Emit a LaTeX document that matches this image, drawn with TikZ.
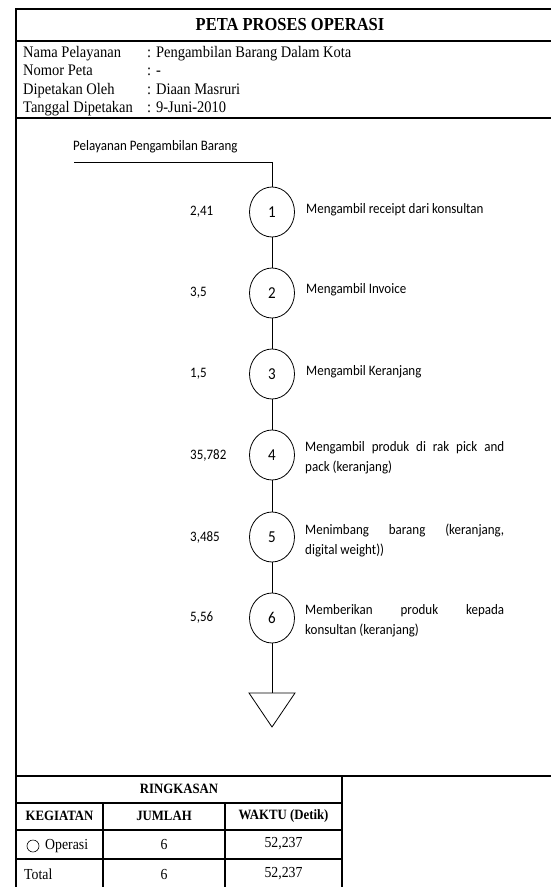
\documentclass[tikz,border=0pt]{standalone}
\usepackage{fontspec}
\usepackage{graphicx}
\setmainfont{Liberation Serif}
\newfontfamily\calfont{Carlito}
\newcommand{\vs}[1]{\scalebox{1}[1.11]{#1}}
\usetikzlibrary{shapes.geometric}
\begin{document}
\begin{tikzpicture}[x=1pt,y=-1pt,
  frame/.style={line width=1.2pt},
  flow/.style={line width=0.8pt},
  op/.style={draw,ellipse,line width=0.8pt,minimum width=45pt,minimum height=50pt,inner sep=0pt,font=\calfont\fontsize{15}{18}\selectfont},
  val/.style={anchor=west,font=\calfont\fontsize{13}{16}\selectfont,inner sep=0pt},
  desc/.style={anchor=west,font=\calfont\fontsize{13}{18}\selectfont,inner sep=0pt},
  info/.style={anchor=base west,font=\fontsize{14.5}{17}\selectfont,inner sep=0pt},
  th/.style={font=\bfseries\fontsize{12.8}{15}\selectfont,inner sep=0pt},
  td/.style={font=\fontsize{13.8}{16}\selectfont,inner sep=0pt}]
\useasboundingbox (0,0) rectangle (551,887);
% frame
\draw[frame] (551,9) -- (16,9) -- (16,887);
\draw[frame] (16,41) -- (551,41);
\draw[frame] (16,118) -- (551,118);
\draw[frame] (16,776) -- (551,776);
% summary table grid
\draw[frame] (342,776) -- (342,887);
\draw[frame] (16,803) -- (342,803);
\draw[frame] (16,830) -- (342,830);
\draw[frame] (16,859) -- (342,859);
\draw[frame] (103,803) -- (103,887);
\draw[frame] (225,803) -- (225,887);
% title
\node[font=\bfseries\fontsize{16.5}{19}\selectfont,inner sep=0pt] (title) at (290,25) {\vs{PETA PROSES OPERASI}};
% info
\node[info] (l1) at (23,57) {\vs{Nama Pelayanan}};
\node[info] (l2) at (23,75.5) {\vs{Nomor Peta}};
\node[info] (l3) at (23,94) {\vs{Dipetakan Oleh}};
\node[info] (l4) at (23,112.5) {\vs{Tanggal Dipetakan}};
\node[info] (v1) at (147,57) {\vs{: Pengambilan Barang Dalam Kota}};
\node[info] (v2) at (147,75.5) {\vs{: -}};
\node[info] (v3) at (147,94) {\vs{: Diaan Masruri}};
\node[info] (v4) at (147,112.5) {\vs{: 9-Juni-2010}};
% flow
\node[val] (head) at (73,147) {\vs{Pelayanan Pengambilan Barang}};
\coordinate (start) at (74,162);
\coordinate (corner) at (272,162);
\node[op] (c1) at (272,212) {\vs{1}};
\node[op] (c2) at (272,293) {\vs{2}};
\node[op] (c3) at (272,374) {\vs{3}};
\node[op] (c4) at (272,455) {\vs{4}};
\node[op] (c5) at (272,537) {\vs{5}};
\node[op] (c6) at (272,618) {\vs{6}};
\coordinate (ttop) at (272,693);
\coordinate (tl) at (249,693);
\coordinate (tr) at (295,693);
\coordinate (tb) at (272,727);
\draw[flow] (start) -- (corner) -- (c1);
\draw[flow] (c1) -- (c2);
\draw[flow] (c2) -- (c3);
\draw[flow] (c3) -- (c4);
\draw[flow] (c4) -- (c5);
\draw[flow] (c5) -- (c6);
\draw[flow] (c6) -- (ttop);
\draw[flow,line join=miter] (tl) -- (tr) -- (tb) -- cycle;
% times
\node[val] (t1) at (190,212) {\vs{2,41}};
\node[val] (t2) at (190,293) {\vs{3,5}};
\node[val] (t3) at (190,374) {\vs{1,5}};
\node[val] (t4) at (190,455) {\vs{35,782}};
\node[val] (t5) at (190,537) {\vs{3,485}};
\node[val] (t6) at (190,618) {\vs{5,56}};
% descriptions
\node[desc] (d1) at (306,210) {\vs{Mengambil receipt dari konsultan}};
\node[desc] (d2) at (306,290) {\vs{Mengambil Invoice}};
\node[desc] (d3) at (306,372) {\vs{Mengambil Keranjang}};
\node[desc] (d4) at (305,458) {\vs{\parbox{199pt}{Mengambil produk di rak pick and\linebreak pack (keranjang)}}};
\node[desc] (d5) at (305,540) {\vs{\parbox{199pt}{Menimbang barang (keranjang,\linebreak digital weight))}}};
\node[desc] (d6) at (305,621) {\vs{\parbox{199pt}{Memberikan produk kepada\linebreak konsultan (keranjang)}}};
% summary
\node[th] (ring) at (179,789) {\vs{RINGKASAN}};
\node[th] (keg) at (59.5,816) {\vs{KEGIATAN}};
\node[th] (jum) at (164,816) {\vs{JUMLAH}};
\node[th] (wak) at (283.5,816) {\vs{WAKTU (Detik)}};
\node[draw,circle,minimum width=11pt,minimum height=12pt,inner sep=0pt,line width=0.6pt] (sym) at (33,846) {};
\node[td,anchor=west] (opr) at (45,846) {\vs{Operasi}};
\node[td] (n1) at (164,844) {\vs{6}};
\node[td] (w1) at (283.5,844) {\vs{52,237}};
\node[td,anchor=west] (tot) at (24,874) {\vs{Total}};
\node[td] (n2) at (164,874) {\vs{6}};
\node[td] (w2) at (283.5,874) {\vs{52,237}};
\end{tikzpicture}
\end{document}
